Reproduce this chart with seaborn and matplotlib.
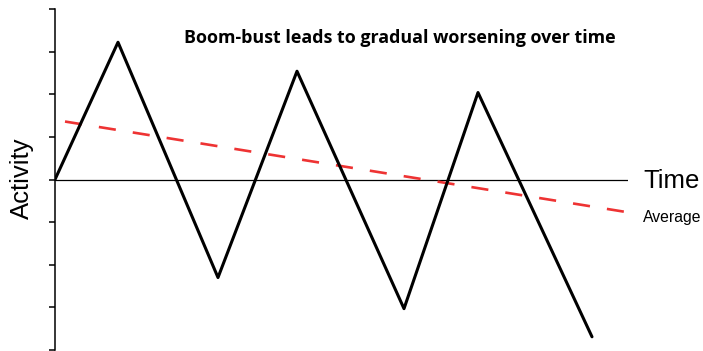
import numpy as np
import pandas as pd
import matplotlib
matplotlib.use("Agg")
import matplotlib.pyplot as plt
import seaborn as sns

# boom-bust path (time, activity)
time = [0, 6.3, 16.3, 24.2, 34.9, 42.3, 53.7]
activity = [0, 3.22, -2.30, 2.54, -3.03, 2.04, -3.69]

# trend of the average
avg_time = [1.0, 57.3]
avg_activity = [1.36, -0.77]

y_ticks = [-4, -3, -2, -1, 0, 1, 2, 3, 4]

sns.set_style("ticks")
plt.rcParams['font.family'] = ['Liberation Sans', 'DejaVu Sans']
plt.rcParams['text.color'] = 'black'

fig = plt.figure(figsize=(7.03, 3.51), dpi=100)
ax = fig.add_axes([55 / 703, 1 / 351, 573 / 703, 341 / 351])

df = pd.DataFrame({"Time": time, "Activity": activity})
df_avg = pd.DataFrame({"Time": avg_time, "Activity": avg_activity})

ax.axhline(0, color="black", lw=0.9, zorder=1)
sns.lineplot(data=df, x="Time", y="Activity", color="black", lw=2.2, ax=ax,
             sort=False, zorder=3)
sns.lineplot(data=df_avg, x="Time", y="Activity", color="#ee3333", lw=1.9, ax=ax,
             dashes=False, zorder=2).lines[-1].set_dashes((6.5, 6.5))

ax.set_xlim(0, 57.3)
ax.set_ylim(-4, 4)
ax.set_yticks(y_ticks)
ax.set_yticklabels([])
ax.set_xticks([])
ax.tick_params(axis="y", direction="out", length=4, width=1.1, color="black")
for side in ["top", "right", "bottom"]:
    ax.spines[side].set_visible(False)
ax.spines["left"].set_linewidth(1.1)
ax.spines["left"].set_color("black")

ax.set_xlabel("")
ax.set_ylabel("")
fig.text(22 / 703, 1 - 178 / 351, "Activity", rotation=90, fontsize=18.5,
         ha="center", va="center", color="black")
ax.text(58.8, -0.03, "Time", fontsize=18.5, ha="left", va="center",
        color="black", clip_on=False)
ax.text(58.8, -0.9, "Average", fontsize=11.3, ha="left", va="center",
        color="black", clip_on=False)
ax.text(34.5, 3.33, "Boom-bust leads to gradual worsening over time",
        fontsize=12.9, fontweight="bold", family=["Open Sans", "DejaVu Sans"],
        ha="center", va="center", color="black")

plt.savefig("out.png", dpi=100)
